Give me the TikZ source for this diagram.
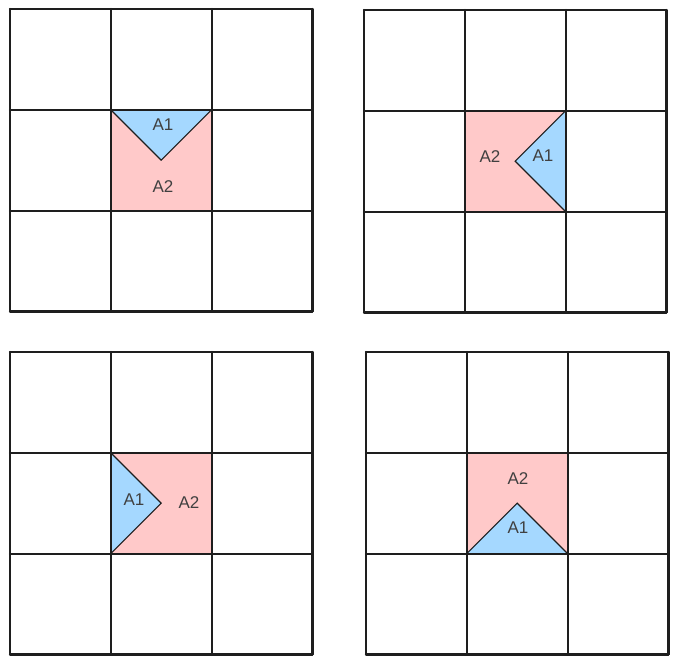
\documentclass[tikz,border=0pt]{standalone}
\usepackage{fontspec}
\setmainfont{Liberation Sans}
\usetikzlibrary{positioning}
\definecolor{areablue}{HTML}{A5D8FF}
\definecolor{areapink}{HTML}{FFC9C9}
\definecolor{inkgray}{HTML}{1E1E1E}
\tikzset{
	gridline/.style={line width=2.2pt, draw=inkgray, line cap=round},
	pinkcell/.style={fill=areapink},
	bluetri/.style={fill=areablue, draw=inkgray, line width=1.1pt, line join=miter},
	lbl/.style={font=\fontsize{17}{17}\selectfont, text=inkgray!85, inner sep=0pt}
}

\begin{document}
\begin{tikzpicture}[x=1pt,y=-1pt]
	\useasboundingbox (0,0) rectangle (679,664);
	
	% top left: A1 at the top of the middle cell
	\fill[pinkcell] (110.8,109.8) rectangle (211.6,210.6);
	\filldraw[bluetri] (110.8,109.8) -- (211.6,109.8) -- (161.2,160.2) -- cycle;
	\node(TLa1) [lbl] at (163,125) {A1};
	\node(TLa2) [lbl] at (163,187) {A2};
	
	% top right: A1 at the right
	\fill[pinkcell] (464.8,110.8) rectangle (565.6,211.6);
	\filldraw[bluetri] (565.6,110.8) -- (565.6,211.6) -- (515.2,161.2) -- cycle;
	\node(TRa1) [lbl] at (543,156) {A1};
	\node(TRa2) [lbl] at (490,157) {A2};
	
	% bottom left: A1 at the left
	\fill[pinkcell] (110.8,452.8) rectangle (211.6,553.6);
	\filldraw[bluetri] (110.8,452.8) -- (110.8,553.6) -- (161.2,503.2) -- cycle;
	\node(BLa1) [lbl] at (134,500) {A1};
	\node(BLa2) [lbl] at (189,503) {A2};
	
	% bottom right: A1 at the bottom
	\fill[pinkcell] (466.8,452.8) rectangle (567.6,553.6);
	\filldraw[bluetri] (466.8,553.6) -- (567.6,553.6) -- (517.2,503.2) -- cycle;
	\node(BRa1) [lbl] at (518,528) {A1};
	\node(BRa2) [lbl] at (518,479) {A2};
	
	% the four 3x3 grids
	\foreach \gx/\gy in {10/9, 364/10, 10/352, 366/352} {
		\foreach \k in {0,...,3} {
			\draw[gridline] (\gx+\k*100.8, \gy) -- (\gx+\k*100.8, \gy+302.4);
			\draw[gridline] (\gx, \gy+\k*100.8) -- (\gx+302.4, \gy+\k*100.8);
		}
	}
\end{tikzpicture}
\end{document}
